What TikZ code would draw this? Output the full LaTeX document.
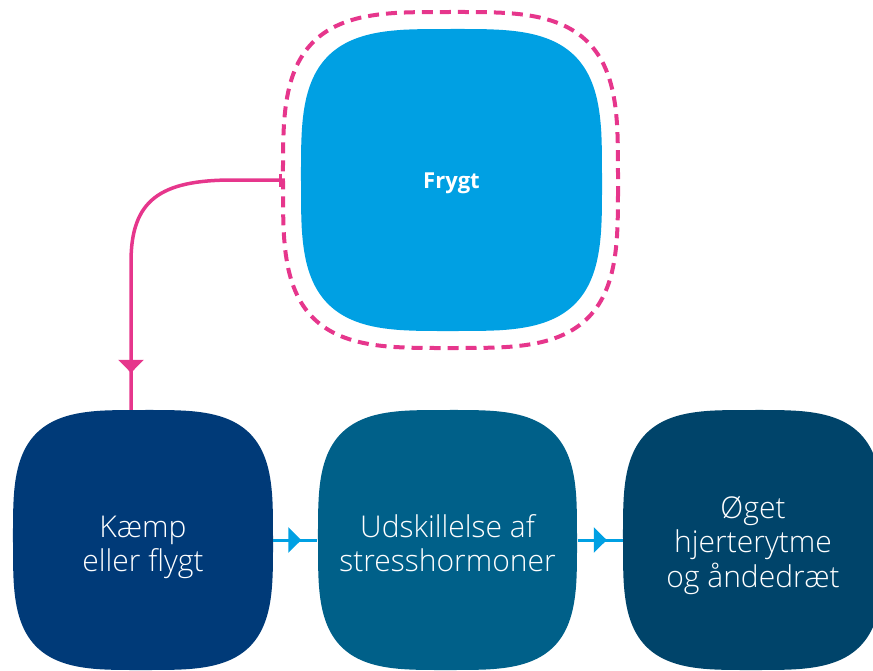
\documentclass[tikz,border=0pt]{standalone}
\usepackage{fontspec}
\setmainfont{Open Sans}[UprightFont=* Light, BoldFont=* Bold]
\usetikzlibrary{arrows.meta,decorations.markings,calc}

\definecolor{skyblue}{RGB}{0,160,227}
\definecolor{navyblue}{RGB}{0,58,120}
\definecolor{petrol}{RGB}{0,96,137}
\definecolor{deepteal}{RGB}{0,68,106}
\definecolor{hotpink}{RGB}{230,54,140}

% superellipse (n = 3.5) centred on a point: #1 style, #2 centre, #3/#4 half sizes
\newcommand\squircleat[4]{%
  \path[#1,shift={(#2)}] plot[domain=0.5:360.5,samples=181,variable=\t]
    ({#3*sign(cos(\t))*abs(cos(\t))^0.5714},{#4*sign(sin(\t))*abs(sin(\t))^0.5714}) -- cycle;}

% fixed line extents so that labels sit on predictable baselines
\newcommand\hiline{\rule{0pt}{24pt}}
\newcommand\loline{\rule[-8pt]{0pt}{8pt}}

\tikzset{
  box/.style={rectangle,inner sep=0pt,minimum width=#1,minimum height=#1},
  lbl/.style={text=white,align=center,inner sep=0pt,font=\fontsize{30}{34.5}\selectfont},
  flow/.style={color=skyblue,line width=3pt,postaction={decorate},
    decoration={markings,mark=at position -16pt with {\arrow{Triangle[length=13pt,width=25pt]}}}},
  trigger/.style={color=hotpink,line width=3.5pt,postaction={decorate},
    decoration={markings,mark=at position -37pt with {\arrow{Triangle[length=13pt,width=25pt]}}}},
}

\begin{document}
\begin{tikzpicture}[x=1pt,y=-1pt]
  \useasboundingbox (0,0) rectangle (873,670);
  \clip (0,0) rectangle (873,670);

  % anchors for the shapes
  \node[box=336pt] (fo) at (450.5,180) {};
  \node[box=302pt] (f) at (451.5,180) {};
  \node[box=260pt] (k) at (143,540) {};
  \node[box=260pt] (u) at (447.5,540) {};
  \node[box=260pt] (o) at (753,540) {};

  % shapes
  \squircleat{draw=hotpink,line width=4pt,dash pattern=on 11pt off 7pt}{fo.center}{167.5}{168}
  \squircleat{fill=skyblue}{f.center}{150.5}{151}
  \squircleat{fill=navyblue}{k.center}{130}{130}
  \squircleat{fill=petrol}{u.center}{129.5}{130}
  \squircleat{fill=deepteal}{o.center}{130}{130}

  % labels
  \node[lbl,font=\bfseries\fontsize{22}{26}\selectfont] (ft) at ([yshift=-2.3pt]f.center)
    {\rule{0pt}{18pt}Frygt\rule[-6pt]{0pt}{6pt}};
  \node[lbl] (kt) at ([yshift=-6.3pt]k.center) {\hiline Kæmp\\eller flygt\loline};
  \node[lbl] (ut) at ([yshift=-6.3pt]u.center) {\hiline Udskillelse af\\stresshormoner\loline};
  \node[lbl] (ot) at ([yshift=-4.5pt]o.center) {\hiline Øget\\hjerterytme\\og åndedræt\loline};

  % connectors
  \coordinate (kin) at ([xshift=-12pt]k.north);
  \coordinate (b1) at (233,180);
  \coordinate (b2) at (131,262);
  \draw[trigger,{Bar[width=13pt]}-] (fo.west) -- (b1)
    .. controls (160,180) and (131,200) .. (b2) -- (kin);
  \draw[flow] (k.east) -- (u.west);
  \draw[flow] (u.east) -- (o.west);
\end{tikzpicture}
\end{document}
